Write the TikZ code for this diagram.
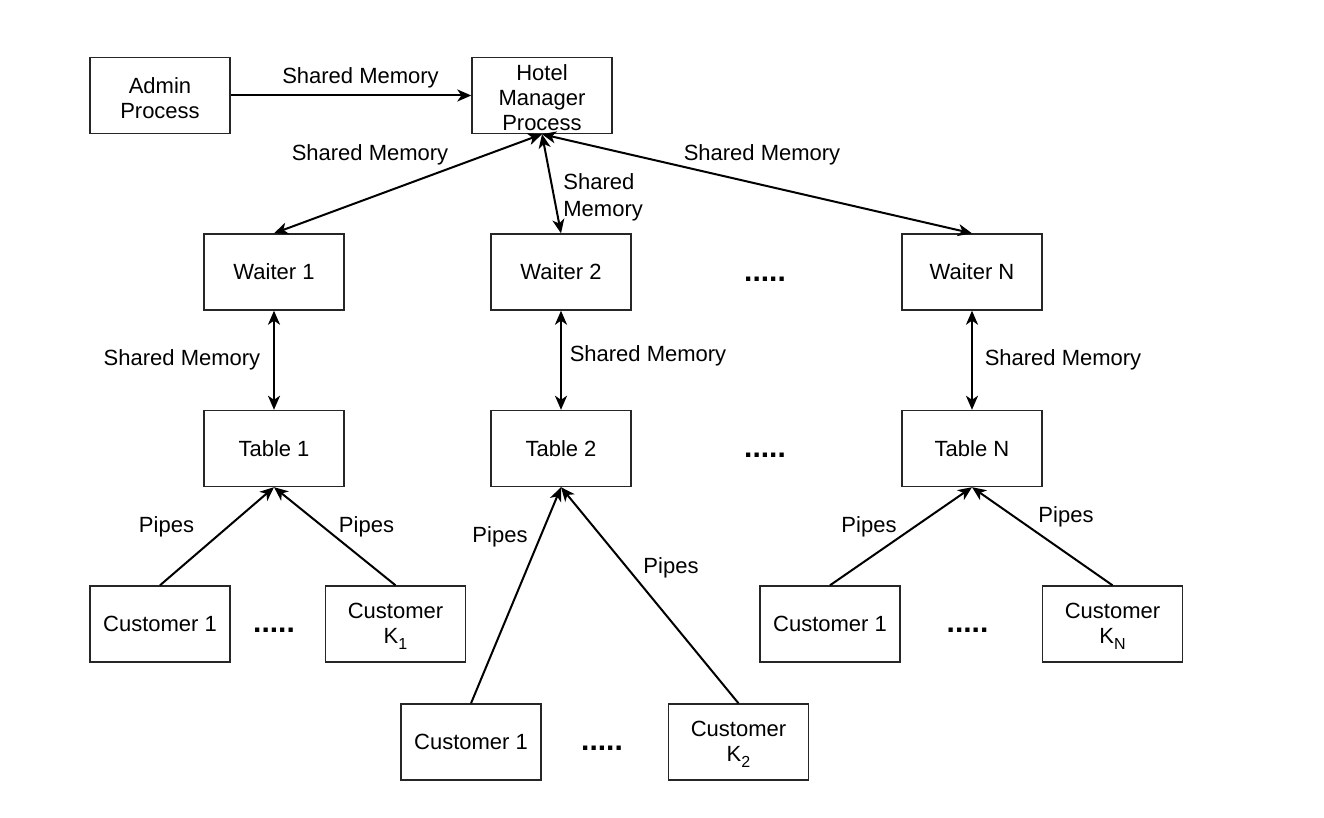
\documentclass[tikz,border=0pt]{standalone}
\usepackage{fontspec}
\setmainfont{Liberation Sans}
\usetikzlibrary{arrows.meta}
\newcommand{\sbs}[1]{\raisebox{-0.55ex}{\fontsize{8}{8}\selectfont #1}}
\newcommand{\lowr}[2]{\raisebox{-1.3pt}[\height][\depth]{\parbox{#1}{\centering #2}}}
\begin{document}
\begin{tikzpicture}[x=0.5pt,y=-0.5pt,
  box/.style={draw=black!85,line width=0.7pt,minimum width=70pt,minimum height=38pt,inner sep=1pt,align=center,font=\fontsize{11}{12.5}\selectfont},
  lbl/.style={font=\fontsize{11}{13.5}\selectfont,inner sep=0pt},
  dots/.style={font=\fontsize{15}{15}\selectfont\bfseries,inner sep=0pt},
  conn/.style={line width=1pt,black,-{Stealth[length=7pt,width=6pt,inset=2pt]}},
  dconn/.style={line width=1pt,black,{Stealth[length=7pt,width=6pt,inset=2pt]}-{Stealth[length=7pt,width=6pt,inset=2pt]}}]
\useasboundingbox (0,0) rectangle (1324,818);
% boxes
\node[box] (admin) at (160,95.5) {\lowr{60pt}{Admin\\Process}};
\node[box] (hotel) at (542,95.5) {\lowr{66pt}{Hotel\\Manager\\Process}};
\node[box] (w1) at (274,272) {Waiter 1};
\node[box] (w2) at (561,272) {Waiter 2};
\node[box] (wN) at (972,272) {Waiter N};
\node[box] (t1) at (274,448.5) {Table 1};
\node[box] (t2) at (561,448.5) {Table 2};
\node[box] (tN) at (972,448.5) {Table N};
\node[box] (c11) at (160,624) {Customer 1};
\node[box] (c1k) at (395.5,624) {\lowr{66pt}{Customer\\K\sbs{1}}};
\node[box] (c21) at (471,742) {Customer 1};
\node[box] (c2k) at (738.5,742) {\lowr{66pt}{Customer\\K\sbs{2}}};
\node[box] (cN1) at (830,624) {Customer 1};
\node[box] (cNk) at (1112.5,624) {\lowr{66pt}{Customer\\K\sbs{N}}};
% dots
\node[dots] (d1) at (765,279) {.....};
\node[dots] (d2) at (765,455) {.....};
\node[dots] (d3) at (274,630) {.....};
\node[dots] (d4) at (602,748) {.....};
\node[dots] (d5) at (967.5,630) {.....};
% connectors
\draw[conn] (admin.east) -- (hotel.west);
\draw[dconn] (hotel.south) -- (w1.north);
\draw[dconn] (hotel.south) -- (w2.north);
\draw[dconn] (hotel.south) -- (wN.north);
\draw[dconn] (w1.south) -- (t1.north);
\draw[dconn] (w2.south) -- (t2.north);
\draw[dconn] (wN.south) -- (tN.north);
\draw[conn] (c11.north) -- (t1.south);
\draw[conn] (c1k.north) -- (t1.south);
\draw[conn] (c21.north) -- (t2.south);
\draw[conn] (c2k.north) -- (t2.south);
\draw[conn] (cN1.north) -- (tN.south);
\draw[conn] (cNk.north) -- (tN.south);
% labels
\node[lbl] (l1) at (360.5,78) {Shared Memory};
\node[lbl] (l2) at (370,155) {Shared Memory};
\node[lbl,align=left,anchor=west] (l3) at (563,197) {Shared\\Memory};
\node[lbl] (l4) at (762,155) {Shared Memory};
\node[lbl] (l5) at (182,360) {Shared Memory};
\node[lbl] (l6) at (648,356) {Shared Memory};
\node[lbl] (l7) at (1063,360) {Shared Memory};
\node[lbl] (p1) at (166.5,527) {Pipes};
\node[lbl] (p2) at (366.5,527) {Pipes};
\node[lbl] (p3) at (500,537) {Pipes};
\node[lbl] (p4) at (671,568) {Pipes};
\node[lbl] (p5) at (869,527) {Pipes};
\node[lbl] (p6) at (1066,517) {Pipes};
\end{tikzpicture}
\end{document}
